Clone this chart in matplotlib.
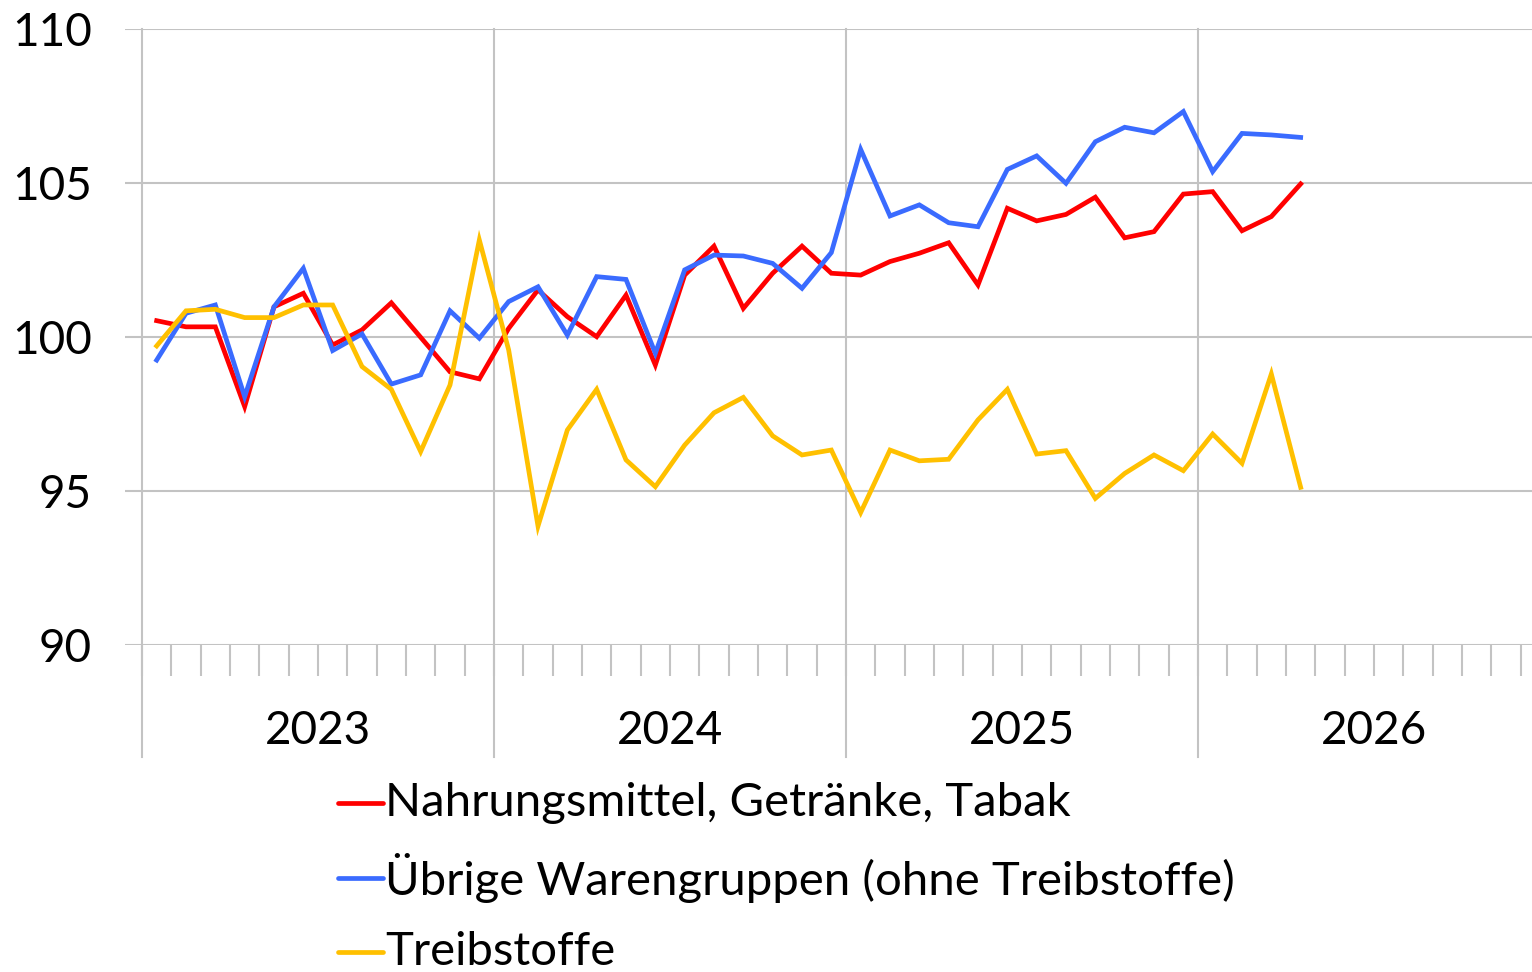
import numpy as np
import matplotlib
matplotlib.use("Agg")
import matplotlib.pyplot as plt
from matplotlib.lines import Line2D

plt.rcParams['font.family'] = ['Lato', 'DejaVu Sans']

# monthly index values, Jan 2023 .. Apr 2026
food = [100.53, 100.33, 100.33, 97.74, 100.98, 101.42, 99.74, 100.23, 101.11, 99.99,
        98.87, 98.64, 100.28, 101.53, 100.66, 100.01, 101.36, 99.09, 102.01, 102.95,
        100.93, 102.07, 102.95, 102.07, 102.01, 102.45, 102.72, 103.06, 101.69, 104.18,
        103.77, 103.98, 104.54, 103.22, 103.42, 104.64, 104.72, 103.45, 103.91, 104.97]
other = [99.25, 100.77, 101.04, 98.06, 100.98, 102.23, 99.56, 100.10, 98.47, 98.77,
         100.85, 99.96, 101.15, 101.63, 100.06, 101.96, 101.87, 99.47, 102.18, 102.66,
         102.63, 102.39, 101.58, 102.74, 106.09, 103.93, 104.29, 103.71, 103.58, 105.44,
         105.88, 104.99, 106.34, 106.81, 106.63, 107.32, 105.37, 106.61, 106.56, 106.48]
fuel = [99.71, 100.85, 100.90, 100.63, 100.63, 101.04, 101.04, 99.04, 98.30, 96.28,
        98.44, 103.15, 99.58, 93.86, 96.98, 98.30, 96.01, 95.14, 96.49, 97.54,
        98.04, 96.79, 96.17, 96.33, 94.30, 96.33, 95.98, 96.03, 97.31, 98.30,
        96.20, 96.31, 94.76, 95.57, 96.17, 95.66, 96.85, 95.90, 98.80, 95.12]

series_names = ["Nahrungsmittel, Getränke, Tabak",
                "Übrige Warengruppen (ohne Treibstoffe)",
                "Treibstoffe"]
series_colors = ["#FF0000", "#3A6BFF", "#FFC000"]
years = ["2023", "2024", "2025", "2026"]
y_ticks = [90, 95, 100, 105, 110]

W, H = 1532, 972
grid_col = "#C3C3C3"

fig = plt.figure(figsize=(W / 100, H / 100), dpi=100)
# plot area: left edge at 125 px, top at 29 px, bottom at 645 px
ax = fig.add_axes([125 / W, (H - 645) / H, (W - 125) / W, (645 - 29) / H])

month_px = 352 / 12
ax.set_xlim(-17 / month_px, (W - 142) / month_px)
ax.set_ylim(90, 110)

for s in ax.spines.values():
    s.set_visible(False)

ax.set_yticks(y_ticks)
ax.set_yticklabels([str(v) for v in y_ticks])
ax.tick_params(axis='y', length=0, pad=24, labelsize=33)
for v in y_ticks:
    ax.axhline(v, color=grid_col, lw=1.5, zorder=1)

# month ticks below the axis
ax.set_xticks(np.arange(0, 48))
ax.set_xticklabels([])
ax.tick_params(axis='x', length=22, width=1.5, color=grid_col, direction='out')

# year separators extending down to the year labels
for k in range(len(years)):
    ax.axvline(12 * k, ymin=-112 / 616, ymax=1, color=grid_col, lw=1.5,
               clip_on=False, zorder=1)
    ax.text(12 * k + 6, -86 / 616, years[k], transform=ax.get_xaxis_transform(),
            ha='center', va='center', fontsize=33)

x = np.arange(len(food)) + 0.5
for vals, name, col in zip([food, other, fuel], series_names, series_colors):
    ax.plot(x, vals, color=col, lw=3.4, solid_joinstyle='miter', zorder=3, label=name)

# legend rows
row_y = [803, 878, 952]
for yy, name, col in zip(row_y, series_names, series_colors):
    fy = (H - yy) / H
    fig.add_artist(Line2D([338 / W, 383 / W], [fy, fy], color=col, lw=3.4,
                          solid_capstyle='round'))
    fig.text(385 / W, fy, name, ha='left', va='center', fontsize=34)

fig.savefig("out.png", dpi=100)
